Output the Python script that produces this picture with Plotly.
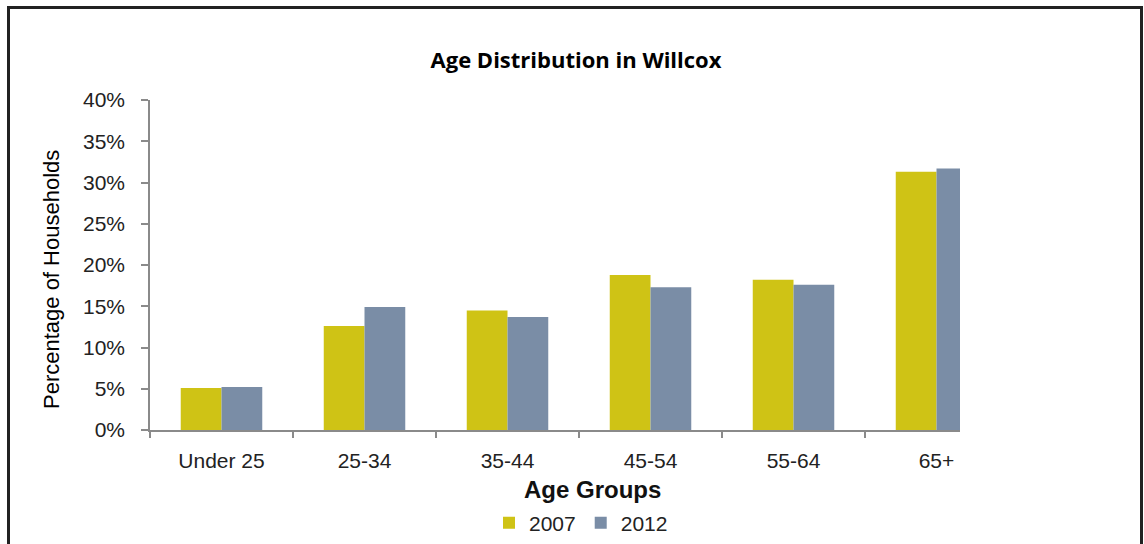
import plotly.graph_objects as go

categories = ["Under 25", "25-34", "35-44", "45-54", "55-64", "65+"]
values_2007 = [5.1, 12.6, 14.5, 18.8, 18.2, 31.3]
values_2012 = [5.2, 14.9, 13.7, 17.3, 17.6, 31.7]
y_ticks = [0, 5, 10, 15, 20, 25, 30, 35, 40]

COL_2007 = "#CFC315"
COL_2012 = "#7A8DA6"
AX = "#8a8a8a"
FONT = "Liberation Sans, Arial, sans-serif"

fig = go.Figure()
fig.add_trace(go.Bar(name="2007", x=categories, y=values_2007, marker=dict(color=COL_2007, line=dict(width=0))))
fig.add_trace(go.Bar(name="2012", x=categories, y=values_2012, marker=dict(color=COL_2012, line=dict(width=0))))

# plot area: x 150..960, y 100..430 (px)
L, R, T, B = 150, 1144 - 960, 100, 544 - 430
PW, PH = 960 - 150, 430 - 100

def px_x(p):
    return (p - L) / PW

def px_y(p):
    return (430 - p) / PH

fig.update_layout(
    width=1144, height=544,
    margin=dict(l=L, r=R, t=T, b=B, autoexpand=False),
    paper_bgcolor="white", plot_bgcolor="white",
    barmode="group", bargap=0.43, bargroupgap=0,
    font=dict(family=FONT, size=21, color="#222"),
    title=dict(text="<b>Age Distribution in Willcox</b>", x=576 / 1144, xanchor="center",
               y=1 - 60 / 544, yanchor="middle", xref="container", yref="container",
               font=dict(family="Open Sans, Lato, sans-serif", size=22, color="#000")),
    xaxis=dict(type="category", range=[-0.5, 5.5 - 48 / 143.0], tickson="boundaries",
               ticks="outside", ticklen=6, tickcolor=AX, tickwidth=1.5,
               showline=True, linecolor=AX, linewidth=1.5, showgrid=False,
               ticklabelstandoff=11, tickfont=dict(size=21, color="#222")),
    yaxis=dict(range=[0, 40], tickvals=y_ticks, ticktext=[f"{v}%" for v in y_ticks],
               ticks="outside", ticklen=7, tickcolor=AX, tickwidth=1.5,
               showline=True, linecolor=AX, linewidth=1.5, showgrid=False, zeroline=False,
               ticklabelstandoff=12, tickfont=dict(size=21, color="#222")),
    legend=dict(orientation="h", x=px_x(581), xanchor="center", y=px_y(523), yanchor="middle",
                font=dict(size=21, color="#222"), itemwidth=30, traceorder="normal",
                bgcolor="rgba(0,0,0,0)"),
    showlegend=True,
)

fig.add_annotation(text="<b>Age Groups</b>", x=px_x(592), y=px_y(489), xref="paper", yref="paper",
                   showarrow=False, xanchor="center", yanchor="middle",
                   font=dict(family=FONT, size=24, color="#111"))

fig.add_annotation(text="Percentage of Households", x=px_x(51), y=px_y(280), xref="paper", yref="paper",
                   showarrow=False, xanchor="center", yanchor="middle", textangle=-90,
                   font=dict(family=FONT, size=22, color="#000"))

# outer frame
fig.add_shape(type="rect", xref="paper", yref="paper",
              x0=px_x(8.5), x1=px_x(1141.5), y0=px_y(7.5), y1=px_y(560),
              line=dict(color="#222", width=3), fillcolor="rgba(0,0,0,0)", layer="above")

fig.write_html("out.html")
